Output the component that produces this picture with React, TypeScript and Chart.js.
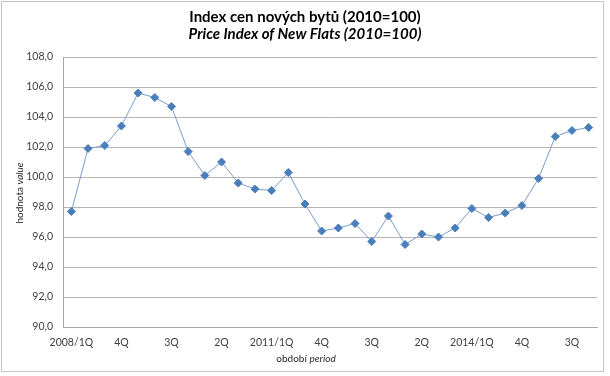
import React, { useEffect, useRef } from "react";
import { Chart, registerables } from "chart.js";

Chart.register(...registerables);

const categories = [
  "2008/1Q", "2Q", "3Q", "4Q",
  "2009/1Q", "2Q", "3Q", "4Q",
  "2010/1Q", "2Q", "3Q", "4Q",
  "2011/1Q", "2Q", "3Q", "4Q",
  "2012/1Q", "2Q", "3Q", "4Q",
  "2013/1Q", "2Q", "3Q", "4Q",
  "2014/1Q", "2Q", "3Q", "4Q",
  "2015/1Q", "2Q", "3Q", "4Q",
];

const indexValues = [
  97.7, 101.9, 102.1, 103.4, 105.6, 105.3, 104.7, 101.7,
  100.1, 101.0, 99.6, 99.2, 99.1, 100.3, 98.2, 96.4,
  96.6, 96.9, 95.7, 97.4, 95.5, 96.2, 96.0, 96.6,
  97.9, 97.3, 97.6, 98.1, 99.9, 102.7, 103.1, 103.3,
];

const titleLine1 = "Index cen nových bytů (2010=100)";
const titleLine2 = "Price Index of New Flats (2010=100)";
const xTitleParts = ["období ", "period"];
const yTitleParts = ["hodnota ", "value"];

const FONT = "Lato, 'Open Sans', sans-serif";

const decorPlugin = {
  id: "decor",
  afterDraw(chart: any) {
    const ctx = chart.ctx as CanvasRenderingContext2D;
    ctx.save();
    // frame
    ctx.strokeStyle = "#c4c4c4";
    ctx.lineWidth = 1;
    ctx.strokeRect(1.5, 1.5, 602, 370);

    // titles
    ctx.fillStyle = "#000000";
    ctx.textAlign = "center";
    ctx.textBaseline = "middle";
    ctx.font = `bold 15px ${FONT}`;
    ctx.fillText(titleLine1, 305, 17);
    ctx.font = `italic bold 15px ${FONT}`;
    ctx.fillText(titleLine2, 305, 34);

    // mixed-style axis titles
    const drawMixed = (parts: string[], cx: number, cy: number, rot: number) => {
      ctx.save();
      ctx.translate(cx, cy);
      ctx.rotate(rot);
      ctx.fillStyle = "#262626";
      ctx.textBaseline = "middle";
      ctx.textAlign = "left";
      const fNormal = `10px ${FONT}`;
      const fItalic = `italic 10px ${FONT}`;
      ctx.font = fNormal;
      const w1 = ctx.measureText(parts[0]).width;
      ctx.font = fItalic;
      const w2 = ctx.measureText(parts[1]).width;
      const start = -(w1 + w2) / 2;
      ctx.font = fNormal;
      ctx.fillText(parts[0], start, 0);
      ctx.font = fItalic;
      ctx.fillText(parts[1], start + w1, 0);
      ctx.restore();
    };
    drawMixed(xTitleParts, 306, 359, 0);
    drawMixed(yTitleParts, 20, 193, -Math.PI / 2);
    ctx.restore();
  },
};

export default function App() {
  const canvasRef = useRef<HTMLCanvasElement | null>(null);

  useEffect(() => {
    if (!canvasRef.current) return;
    const chart = new Chart(canvasRef.current, {
      type: "line",
      data: {
        labels: categories,
        datasets: [
          {
            data: indexValues,
            borderColor: "#7a9ccf",
            borderWidth: 1,
            pointStyle: "rectRot",
            pointRadius: 4,
            pointHoverRadius: 4,
            pointBackgroundColor: "#4a7ebb",
            pointBorderColor: "#4a7ebb",
            pointBorderWidth: 1,
            tension: 0,
            fill: false,
          },
        ],
      },
      options: {
        responsive: true,
        maintainAspectRatio: false,
        animation: false,
        layout: { padding: { left: 0, top: 57, right: 13, bottom: 0 } },
        plugins: {
          legend: { display: false },
          title: { display: false },
          tooltip: { enabled: false },
        },
        scales: {
          x: {
            type: "category",
            offset: true,
            grid: { display: false, drawTicks: false },
            border: { display: true, color: "#a6a6a6" },
            ticks: {
              autoSkip: false,
              maxRotation: 0,
              padding: 9,
              color: "#404040",
              font: { family: FONT, size: 10.5 },
              callback: (_v: any, i: number) => (i % 3 === 0 ? categories[i] : ""),
            },
            afterFit: (scale: any) => {
              scale.height = 49;
            },
          },
          y: {
            min: 90,
            max: 108,
            grid: { color: "#b5b5b5", drawTicks: false },
            border: { display: true, color: "#a6a6a6" },
            ticks: {
              stepSize: 2,
              padding: 10,
              color: "#404040",
              font: { family: FONT, size: 10.5 },
              callback: (v: any) => Number(v).toFixed(1).replace(".", ","),
            },
            afterFit: (scale: any) => {
              scale.width = 63;
            },
          },
        },
      },
      plugins: [decorPlugin],
    });
    return () => chart.destroy();
  }, []);

  return (
    <div
      style={{
        position: "fixed",
        left: 0,
        top: 0,
        width: 610,
        height: 376,
        background: "#ffffff",
      }}
    >
      <canvas ref={canvasRef} />
    </div>
  );
}
